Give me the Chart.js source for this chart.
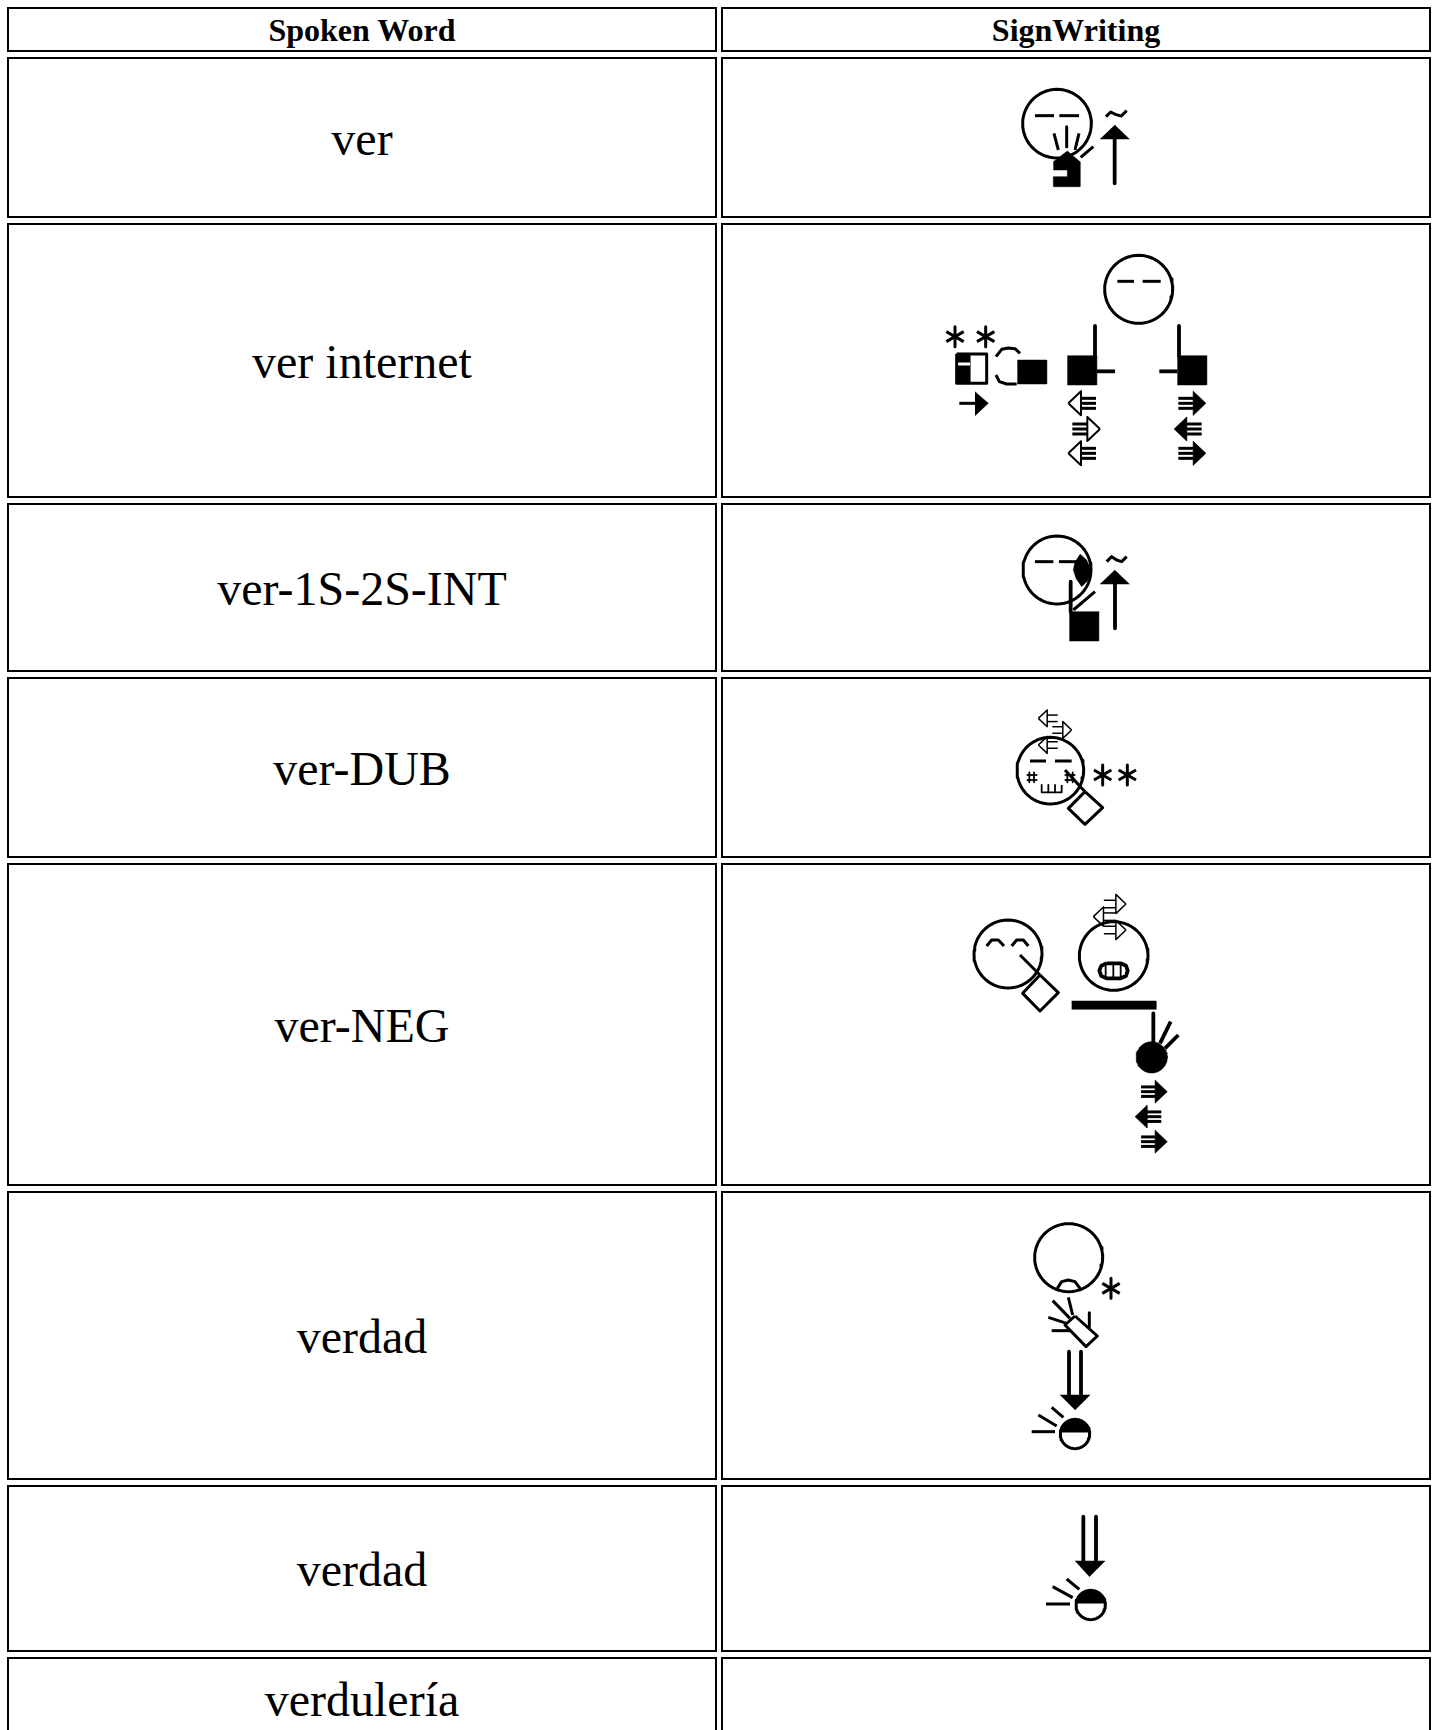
<!DOCTYPE html>
<html>
<head>
<meta charset="utf-8">
<title>SignWriting</title>
<script src="https://cdn.jsdelivr.net/npm/chart.js@4"></script>
<style>
html, body { margin: 0; padding: 0; background: #fff; }
body { width: 1435px; height: 1730px; overflow: hidden; position: relative; font-family: "Liberation Serif", serif; color: #000; }
#signTable { position: absolute; left: 7px; top: 7px; width: 1424px; table-layout: fixed; border-collapse: collapse; }
#signTable td, #signTable th { position: absolute; box-sizing: border-box; border: 2px solid #000; text-align: center; padding: 2px 0 0 0; display: flex; align-items: center; justify-content: center; }
#signTable th { font-size: 32px; font-weight: bold; }
#signTable td { font-size: 48px; font-weight: normal; }
#signCanvas { position: absolute; left: 0; top: 0; filter: blur(0.5px); pointer-events: none; }
</style>
</head>
<body>
<table id="signTable"><tbody id="signRows"></tbody></table>
<canvas id="signCanvas" width="1435" height="1730"></canvas>
<script>
// Texto de la tabla
const headers = ['Spoken Word', 'SignWriting'];
const words = ['ver', 'ver internet', 'ver-1S-2S-INT', 'ver-DUB', 'ver-NEG', 'verdad', 'verdad', 'verdulería'];

// Bordes de filas y columnas (px de página)
const rowTops = [7, 57, 223, 503, 677, 863, 1191, 1485, 1657];
const rowBottoms = [52, 218, 498, 672, 858, 1186, 1480, 1652, 1739];
const colLefts = [7, 721];
const colRights = [717, 1431];

// Signos: coordenadas en px de recorte x3, relativas a "at"
const signVer = {
  at: [980, 70],
  heads: [[231, 161, 103]],
  lines: [[165,137,222,137], [238,137,297,137], [222,190,235,240], [260,170,260,230], [297,190,285,240], [340,230,302,262], [378,140,392,126,408,134,424,138,440,122]],
  heavy: [[404,190,404,340]],
  solids: [[220,275,262,243,300,275,300,350,220,350,220,320,262,320,262,300,220,300], [360,207,448,207,404,165]]
};

const signInternet = {
  at: [920, 240],
  heads: [[656, 148, 102]],
  lines: [[592,124,642,124], [668,124,722,124], [228,350,245,328,265,324,285,326,300,340], [228,405,238,425,260,432,290,432], [118,490,175,490], [110,342,200,342,200,430,110,430,110,342]],
  heavy: [[525,258,525,347], [530,394,585,394], [777,258,777,347], [718,394,772,394]],
  solids: [[292,360,380,360,380,432,292,432], [442,347,530,347,530,435,442,435], [772,347,860,347,860,435,772,435], [165,455,205,490,165,527], [110,340,150,340,150,430,110,430]],
  erase: [[110,372,150,372]],
  stars: [[105, 290, 30], [197, 290, 30]],
  hollowArrows: [[445, 490, -1], [540, 567, 1], [445, 640, -1]],
  solidArrows: [[858, 490, 1], [762, 567, -1], [858, 640, 1]],
  arrowSize: 1
};

const signInt = {
  at: [990, 530],
  heads: [[201, 120, 102]],
  lines: [[135,95,190,95], [207,95,260,95], [350,95,365,80,380,90,395,95,410,80], [250,240,315,185]],
  heavy: [[242,155,242,245], [375,160,375,295]],
  solids: [[270,72,290,90,303,120,295,150,275,170,258,145,250,120,255,95], [238,245,326,245,326,333,238,333], [330,162,418,162,374,120]]
};

const signDub = {
  at: [990, 695],
  heads: [[181, 227, 100]],
  lines: [[120,198,168,198], [195,198,245,198], [225,225,285,290], [285,290,338,338,285,388,235,340,285,290]],
  thin: [[118,232,118,262], [132,232,132,262], [110,240,142,240], [110,255,142,255], [232,232,232,262], [248,232,248,262], [224,240,256,240], [224,255,256,255], [155,270,155,292,215,292,215,270], [175,270,175,292], [195,270,195,292]],
  stars: [[338, 240, 30], [412, 240, 30]],
  thinArrows: [[145, 70, -1], [245, 105, 1], [145, 150, -1]],
  thinSize: 0.7
};

const signNeg = {
  at: [960, 880],
  heads: [[144, 222, 102], [461, 228, 103]],
  lines: [[80,198,95,180,115,180,132,198], [155,198,170,180,190,180,205,198], [180,225,240,285], [240,285,295,338,240,393,188,340,240,285]],
  thin: [[437,250,437,296], [460,250,460,296], [482,250,482,296]],
  heavy: [[580,400,580,490], [632,425,600,490], [655,465,615,505], [440,250,482,250,498,257,503,272,498,288,482,295,440,295,424,288,418,272,424,257,440,250]],
  solids: [[335,363,588,363,588,388,335,388]],
  discs: [[575, 532, 47]],
  thinArrows: [[498, 72, 1], [400, 110, -1], [498, 150, 1]],
  solidArrows: [[622, 635, 1], [525, 710, -1], [622, 785, 1]],
  arrowSize: 0.95,
  thinSize: 0.8
};

const signVerdad = {
  at: [1000, 1210],
  heads: [[206, 143, 102], [225, 672, 44]],
  lines: [[172,235,185,215,205,210,225,215,240,235], [225,318,292,378,258,410,195,345,225,318], [205,262,218,315], [158,272,210,325], [145,322,200,340], [155,362,210,362], [268,308,268,350], [95,665,165,665], [115,615,170,648], [155,592,190,622]],
  heavy: [[207,425,207,560], [243,425,243,560]],
  solids: [[180,555,270,555,225,600]],
  halves: [[225, 672, 44]],
  stars: [[333, 235, 30]]
};

const signVerdad2 = {
  at: [1020, 1500],
  heads: [[212, 315, 44]],
  lines: [[78,312,150,312], [98,260,158,293], [140,237,178,268]],
  heavy: [[190,50,190,190], [228,50,228,190]],
  solids: [[165,183,255,183,208,230]],
  halves: [[212, 315, 44]]
};

const signs = [signVer, signInternet, signInt, signDub, signNeg, signVerdad, signVerdad2];

// Tabla con las palabras
const signRows = document.getElementById('signRows');
function addCell(row, tag, text, r, c) {
  const cell = document.createElement(tag);
  cell.textContent = text;
  cell.style.left = (colLefts[c] - 7) + 'px';
  cell.style.top = (rowTops[r] - 7) + 'px';
  cell.style.width = (colRights[c] - colLefts[c]) + 'px';
  cell.style.height = (rowBottoms[r] - rowTops[r]) + 'px';
  row.appendChild(cell);
}
const headRow = document.createElement('tr');
headers.forEach((h, c) => addCell(headRow, 'th', h, 0, c));
signRows.appendChild(headRow);
words.forEach((w, i) => {
  const row = document.createElement('tr');
  addCell(row, 'td', w, i + 1, 0);
  addCell(row, 'td', '', i + 1, 1);
  signRows.appendChild(row);
});

// Pasar de px de recorte a puntos de la escala
function toPoints(at, flat) {
  const pts = [];
  for (let i = 0; i < flat.length; i += 2) {
    pts.push({ x: at[0] + flat[i] / 3, y: at[1] + flat[i + 1] / 3 });
  }
  return pts;
}

function arc(cx, cy, r, from, to) {
  const flat = [];
  for (let a = from; a <= to; a += 6) {
    flat.push(cx + r * Math.cos(a * Math.PI / 180), cy + r * Math.sin(a * Math.PI / 180));
  }
  return flat;
}

function starLines(s) {
  const d = s[2], k = d * 0.87, h = d * 0.5;
  return [
    [s[0], s[1] - d, s[0], s[1] + d],
    [s[0] - k, s[1] - h, s[0] + k, s[1] + h],
    [s[0] - k, s[1] + h, s[0] + k, s[1] - h]
  ];
}

// Flecha horizontal: punta en tip, dir 1 a la derecha, -1 a la izquierda
function arrowParts(a, size, gaps) {
  const tip = a[0], y = a[1], dir = a[2];
  const back = tip - dir * 38 * size, end = back - dir * 45 * size, half = 36 * size;
  return {
    head: [tip, y, back, y - half, back, y + half, tip, y],
    bars: gaps.map(g => [back, y + g * size, end, y + g * size])
  };
}

// Datasets de cada signo
const datasets = [];
function addStroke(at, flat, width, color) {
  datasets.push({ data: toPoints(at, flat), borderColor: color || '#000', borderWidth: width, pointRadius: 0, fill: false, tension: 0, borderJoinStyle: 'round', order: -datasets.length });
}
function addFill(at, flat) {
  datasets.push({ data: toPoints(at, flat), borderColor: '#000', borderWidth: 0.5, backgroundColor: '#000', pointRadius: 0, fill: 'shape', tension: 0, order: -datasets.length });
}

signs.forEach(s => {
  (s.solids || []).forEach(p => addFill(s.at, p));
  (s.erase || []).forEach(p => addStroke(s.at, p, 3, '#fff'));
  (s.heads || []).forEach(h => addStroke(s.at, arc(h[0], h[1], h[2], 0, 360), 3));
  (s.discs || []).forEach(h => addFill(s.at, arc(h[0], h[1], h[2], 0, 360)));
  (s.halves || []).forEach(h => addFill(s.at, arc(h[0], h[1], h[2], 186, 354)));
  (s.lines || []).forEach(p => addStroke(s.at, p, 3));
  (s.thin || []).forEach(p => addStroke(s.at, p, 1.8));
  (s.heavy || []).forEach(p => addStroke(s.at, p, 3.8));
  (s.stars || []).forEach(st => starLines(st).forEach(p => addStroke(s.at, p, 3)));
  (s.hollowArrows || []).forEach(a => {
    const parts = arrowParts(a, s.arrowSize, [-15, 0, 15]);
    addStroke(s.at, parts.head, 2);
    parts.bars.forEach(p => addStroke(s.at, p, 3));
  });
  (s.thinArrows || []).forEach(a => {
    const parts = arrowParts(a, s.thinSize, [-14, 14]);
    addStroke(s.at, parts.head, 1.5);
    parts.bars.forEach(p => addStroke(s.at, p, 1.5));
  });
  (s.solidArrows || []).forEach(a => {
    const parts = arrowParts(a, s.arrowSize, [-15, 0, 15]);
    addFill(s.at, parts.head);
    parts.bars.forEach(p => addStroke(s.at, p, 3));
  });
});

const signChart = new Chart(document.getElementById('signCanvas').getContext('2d'), {
  type: 'line',
  data: { datasets: datasets },
  options: {
    responsive: false,
    animation: false,
    layout: { padding: 0 },
    plugins: { legend: { display: false }, tooltip: { enabled: false }, title: { display: false } },
    scales: {
      x: { type: 'linear', display: false, min: 0, max: 1435 },
      y: { type: 'linear', display: false, min: 0, max: 1730, reverse: true }
    }
  }
});
</script>
</body>
</html>
